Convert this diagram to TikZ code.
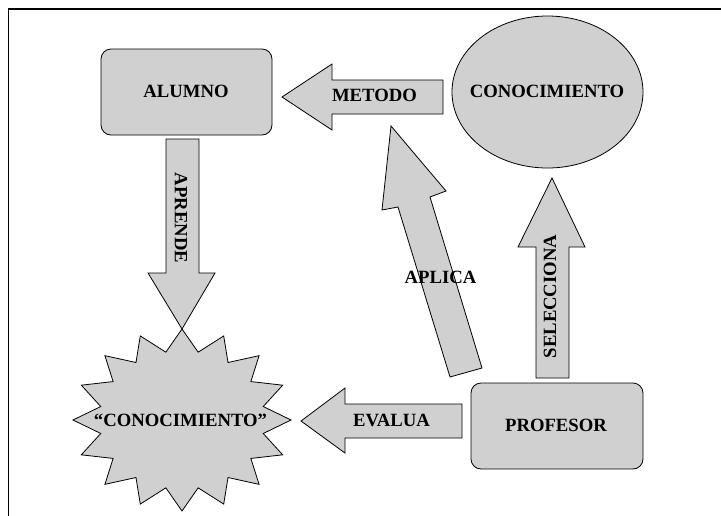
\documentclass[tikz,border=0pt]{standalone}
\usepackage{fontspec}
\setmainfont{Liberation Serif}
\usetikzlibrary{shapes.geometric}
\definecolor{shapefill}{RGB}{208,208,208}
\begin{document}
\begin{tikzpicture}[x=1pt,y=-1pt,
  blk/.style={fill=shapefill,draw=black,line width=0.8pt,line join=miter},
  boxnode/.style={blk,rounded corners=10pt,minimum width=171pt,minimum height=86pt,inner sep=0pt},
  lbl/.style={font=\fontsize{18.7}{20}\selectfont\bfseries,inner sep=0pt,anchor=base},
  vlbl/.style={font=\fontsize{18.7}{20}\selectfont\bfseries,inner sep=0pt,anchor=center}]
\useasboundingbox (0,0) rectangle (721,515);
\clip (0,0) rectangle (721,515);
% frame
\draw[line width=1.6pt] (8.3,530) -- (8.3,8.7) -- (740,8.7);

% main shapes
\node[boxnode] (alumno) at (186.5,92) {};
\node[blk,ellipse,minimum width=191pt,minimum height=152pt,inner sep=0pt] (conoc) at (547.5,92) {};
\node[boxnode,minimum width=172pt] (profesor) at (557,426) {};
\coordinate (starc) at (182,420);
\draw[blk,shift={(182,420)}] (90:109 and 91)
  \foreach \i [evaluate=\i as \r using {mod(\i,2)==0 ? 1 : 0.76}] in {1,...,31} { -- ({90+\i*11.25}:{109*\r} and {91*\r}) } -- cycle;

% block arrows
\draw[blk] (282,97) -- (332,64) -- (332,80) -- (443,80) -- (443,114) -- (332,114) -- (332,130) -- cycle;
\draw[blk] (182,329) -- (148,273) -- (166,273) -- (166,139) -- (199,139) -- (199,273) -- (215,273) -- cycle;
\draw[blk] (552,178) -- (585,247) -- (569,247) -- (569,378) -- (536,378) -- (536,247) -- (518,247) -- cycle;
\draw[blk] (301,421) -- (345,388) -- (345,404) -- (462,404) -- (462,438) -- (345,438) -- (345,453) -- cycle;
\draw[blk] (391,126) -- (446,191) -- (430,197) -- (482,368) -- (450,377) -- (398,207) -- (382,210) -- cycle;

% labels
\node[lbl] (tAlumno) at (186,97.3) {ALUMNO};
\node[lbl] (tMetodo) at (374.5,101.8) {METODO};
\node[lbl] (tConoc) at (547,97.7) {CONOCIMIENTO};
\node[vlbl,rotate=-90] (tAprende) at (181,218) {APRENDE};
\node[vlbl,rotate=90] (tSelecciona) at (550,296.5) {SELECCIONA};
\node[lbl] (tAplica) at (440.5,283) {APLICA};
\node[lbl] (tEvalua) at (391.5,426) {EVALUA};
\node[lbl] (tProfesor) at (556,431.7) {PROFESOR};
\node[lbl] (tStar) at (180.5,426.7) {“CONOCIMIENTO”};
\end{tikzpicture}
\end{document}
